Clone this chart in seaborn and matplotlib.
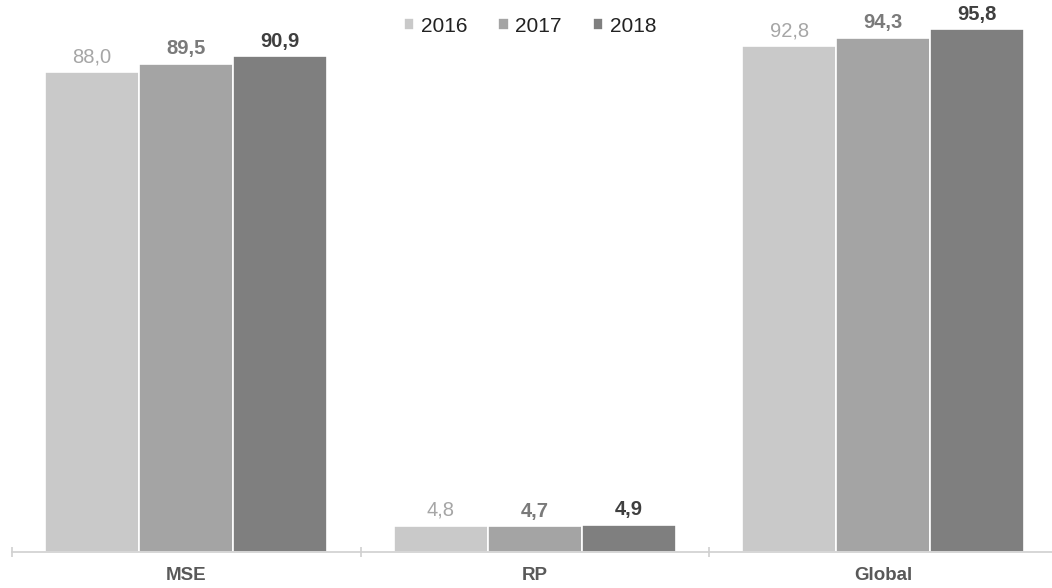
import matplotlib
matplotlib.use("Agg")
import matplotlib.pyplot as plt
import seaborn as sns
import pandas as pd

categories = ["MSE", "RP", "Global"]
years = ["2016", "2017", "2018"]
values_2016 = [88.0, 4.8, 92.8]
values_2017 = [89.5, 4.7, 94.3]
values_2018 = [90.9, 4.9, 95.8]

bar_colors = ["#c9c9c9", "#a4a4a4", "#7f7f7f"]
label_colors = ["#a6a6a6", "#7a7a7a", "#3f3f3f"]

rows = []
for yr, vals in zip(years, [values_2016, values_2017, values_2018]):
    for cat, v in zip(categories, vals):
        rows.append({"Categoria": cat, "Ano": yr, "Valor": v})
df = pd.DataFrame(rows)

sns.set_style("white")
plt.rcParams["font.family"] = ["Liberation Sans", "DejaVu Sans"]

W, H = 1052, 588
fig = plt.figure(figsize=(W / 100, H / 100), dpi=100)
ax = fig.add_axes([12 / W, (H - 551.7) / H, 1045.5 / W, 551.7 / H])

sns.barplot(data=df, x="Categoria", y="Valor", hue="Ano", order=categories,
            hue_order=years, palette=bar_colors, width=0.81, saturation=1,
            edgecolor="white", linewidth=1.2, ax=ax, legend=True)

ax.set_xlim(-0.5, 2.5)
ax.set_ylim(0, 101.2)
ax.set_xlabel("")
ax.set_ylabel("")
ax.set_yticks([])
for s in ["top", "right", "left"]:
    ax.spines[s].set_visible(False)
ax.spines["bottom"].set_color("#d0d0d0")
ax.spines["bottom"].set_linewidth(1.2)

ax.set_xticks([0, 1, 2])
ax.set_xticklabels(categories, fontsize=13.5, fontweight="bold", color="#595959")
ax.tick_params(axis="x", which="major", bottom=False, length=0, pad=11)
ax.set_xticks([-0.5, 0.5, 1.5], minor=True)
ax.tick_params(axis="x", which="minor", bottom=True, length=7.5,
               direction="inout", color="#d0d0d0", width=1.2)

for container, lc, yr in zip(ax.containers, label_colors, years):
    weight = "bold" if yr != "2016" else "normal"
    labels = [f"{v:.1f}".replace(".", ",") for v in container.datavalues]
    ax.bar_label(container, labels=labels, padding=4, fontsize=14.5,
                 color=lc, fontweight=weight)

leg = ax.legend(loc="upper center", bbox_to_anchor=(0.4955, 1.0), ncol=3,
                frameon=False, fontsize=15, handlelength=0.5, handleheight=0.5,
                handletextpad=0.3, columnspacing=1.5, borderaxespad=0.4,
                labelcolor="#222222")
for h in leg.legend_handles:
    h.set_edgecolor("white")

fig.savefig("out.png", dpi=100)
